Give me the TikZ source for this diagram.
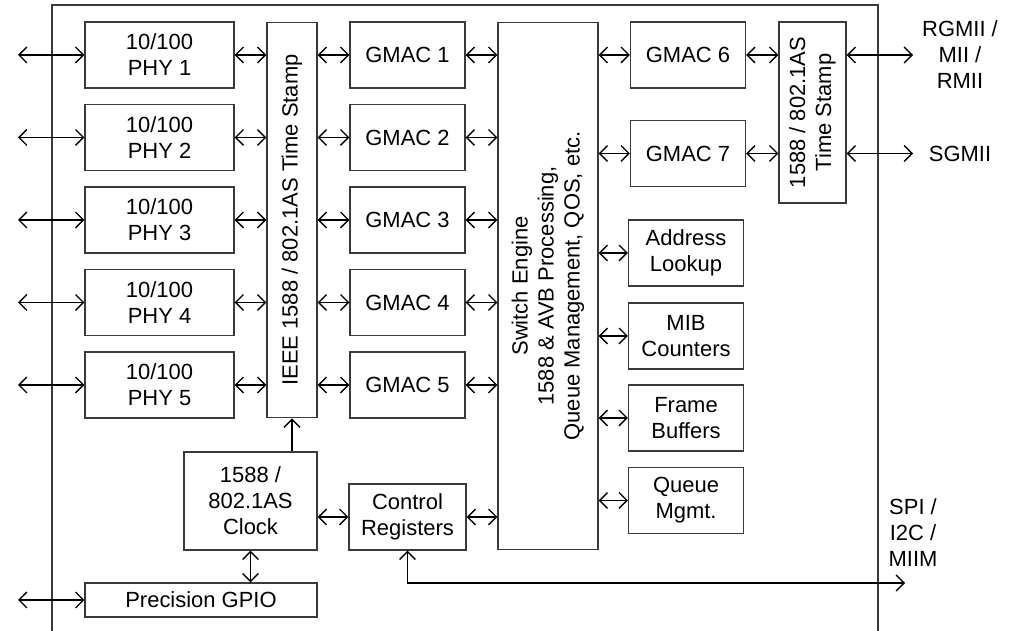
\documentclass[tikz,border=0pt]{standalone}
\usepackage{fontspec}
\setmainfont{Liberation Sans}
\usetikzlibrary{arrows.meta,calc}
\definecolor{cBOX}{HTML}{3A3A3A}

\begin{document}
\begin{tikzpicture}[x=0.02cm, y=-0.02cm, font=\fontsize{12.5}{14.8}\selectfont,
  >={Straight Barb[length=4.5pt,width=9pt]},
  blk/.style={draw=cBOX, line width=0.6pt, inner sep=0pt, align=center},
  phy/.style={blk, minimum width=2.98cm, minimum height=1.32cm},
  gmac/.style={blk, minimum width=2.3cm, minimum height=1.32cm},
  lbl/.style={align=center, inner sep=0pt},
  link/.style={<->, line width=0.8pt}]
\useasboundingbox (0,0) rectangle (1012,631);
% chip outline
\draw[cBOX, line width=0.7pt] (52,631) -- (52,5) -- (878,5) -- (878,631);

% PHY column
\node[phy] (phy1) at (159.5,55) {10/100\\PHY 1};
\node[phy] (phy2) at (159.5,137.5) {10/100\\PHY 2};
\node[phy] (phy3) at (159.5,220) {10/100\\PHY 3};
\node[phy] (phy4) at (159.5,302.5) {10/100\\PHY 4};
\node[phy] (phy5) at (159.5,385) {10/100\\PHY 5};

% time stamp units
\node[blk, minimum width=1cm, minimum height=7.92cm] (ts1) at (292,220) {};
\node[lbl, rotate=90] (ts1txt) at (ts1) {IEEE 1588 / 802.1AS Time Stamp};
\node[blk, minimum width=1.34cm, minimum height=3.62cm] (ts2) at (812.5,112.5) {};
\node[lbl, rotate=90] (ts2txt) at (ts2) {1588 / 802.1AS\\Time Stamp};

% GMACs
\node[gmac] (gmac1) at (407.5,55) {GMAC 1};
\node[gmac] (gmac2) at (407.5,137.5) {GMAC 2};
\node[gmac] (gmac3) at (407.5,220) {GMAC 3};
\node[gmac] (gmac4) at (407.5,302.5) {GMAC 4};
\node[gmac] (gmac5) at (407.5,385) {GMAC 5};
\node[gmac] (gmac6) at (688,55) {GMAC 6};
\node[gmac] (gmac7) at (688,153.5) {GMAC 7};

% switch engine
\node[blk, minimum width=2cm, minimum height=10.56cm] (sw) at (548,286) {};
\node[lbl, rotate=90] (swtxt) at (sw) {Switch Engine\\1588 \& AVB Processing,\\Queue Management, QOS, etc.};

% switch helpers
\node[gmac] (addr) at (686,253) {Address\\Lookup};
\node[gmac] (mib) at (686,336) {MIB\\Counters};
\node[gmac] (frame) at (686,418) {Frame\\Buffers};
\node[gmac] (queue) at (686,500.5) {Queue\\Mgmt.};

% clock, control, gpio
\node[blk, minimum width=2.66cm, minimum height=1.96cm] (clk) at (250.5,501) {1588 /\\802.1AS\\Clock};
\node[blk, minimum width=2.34cm, minimum height=1.32cm] (ctrl) at (407.5,517) {Control\\Registers};
\node[blk, minimum width=4.64cm, minimum height=0.68cm] (gpio) at (201,600) {Precision GPIO};

% outside labels
\node[lbl] (rgmii) at (960,55) {RGMII /\\MII /\\RMII};
\node[lbl] (sgmii) at (960,153.5) {SGMII};
\node[lbl] (spi) at (913,533) {SPI /\\I2C /\\MIIM};

% free ends
\coordinate (in1) at (18,55);
\coordinate (in2) at (18,137.5);
\coordinate (in3) at (18,220);
\coordinate (in4) at (18,302.5);
\coordinate (in5) at (18,385);
\coordinate (ingpio) at (18,600);
\coordinate (out6) at (913,55);
\coordinate (out7) at (913,153.5);
\coordinate (outspi) at (905,583);

% port links
\draw[link] (in1) -- (phy1.west);
\draw[link] (in2) -- (phy2.west);
\draw[link] (in3) -- (phy3.west);
\draw[link] (in4) -- (phy4.west);
\draw[link] (in5) -- (phy5.west);
\draw[link] (ingpio) -- (gpio.west);

\draw[link] (phy1.east) -- (phy1.east -| ts1.west);
\draw[link] (phy2.east) -- (phy2.east -| ts1.west);
\draw[link] (phy3.east) -- (phy3.east -| ts1.west);
\draw[link] (phy4.east) -- (phy4.east -| ts1.west);
\draw[link] (phy5.east) -- (phy5.east -| ts1.west);

\draw[link] (gmac1.west -| ts1.east) -- (gmac1.west);
\draw[link] (gmac2.west -| ts1.east) -- (gmac2.west);
\draw[link] (gmac3.west -| ts1.east) -- (gmac3.west);
\draw[link] (gmac4.west -| ts1.east) -- (gmac4.west);
\draw[link] (gmac5.west -| ts1.east) -- (gmac5.west);

\draw[link] (gmac1.east) -- (gmac1.east -| sw.west);
\draw[link] (gmac2.east) -- (gmac2.east -| sw.west);
\draw[link] (gmac3.east) -- (gmac3.east -| sw.west);
\draw[link] (gmac4.east) -- (gmac4.east -| sw.west);
\draw[link] (gmac5.east) -- (gmac5.east -| sw.west);

% right side
\draw[link] (gmac6.west -| sw.east) -- (gmac6.west);
\draw[link] (gmac7.west -| sw.east) -- (gmac7.west);
\draw[link] (addr.west -| sw.east) -- (addr.west);
\draw[link] (mib.west -| sw.east) -- (mib.west);
\draw[link] (frame.west -| sw.east) -- (frame.west);
\draw[link] (queue.west -| sw.east) -- (queue.west);
\draw[link] (gmac6.east) -- (gmac6.east -| ts2.west);
\draw[link] (gmac7.east) -- (gmac7.east -| ts2.west);
\draw[link] (gmac6.east -| ts2.east) -- (out6);
\draw[link] (gmac7.east -| ts2.east) -- (out7);

% clock and control
\draw[->, line width=0.8pt] (ts1.south |- clk.north) -- (ts1.south);
\draw[link] (clk.south) -- (clk.south |- gpio.north);
\draw[link] (ctrl.west -| clk.east) -- (ctrl.west);
\draw[link] (ctrl.east) -- (ctrl.east -| sw.west);
\draw[link] (ctrl.south) |- (outspi);
\end{tikzpicture}
\end{document}
